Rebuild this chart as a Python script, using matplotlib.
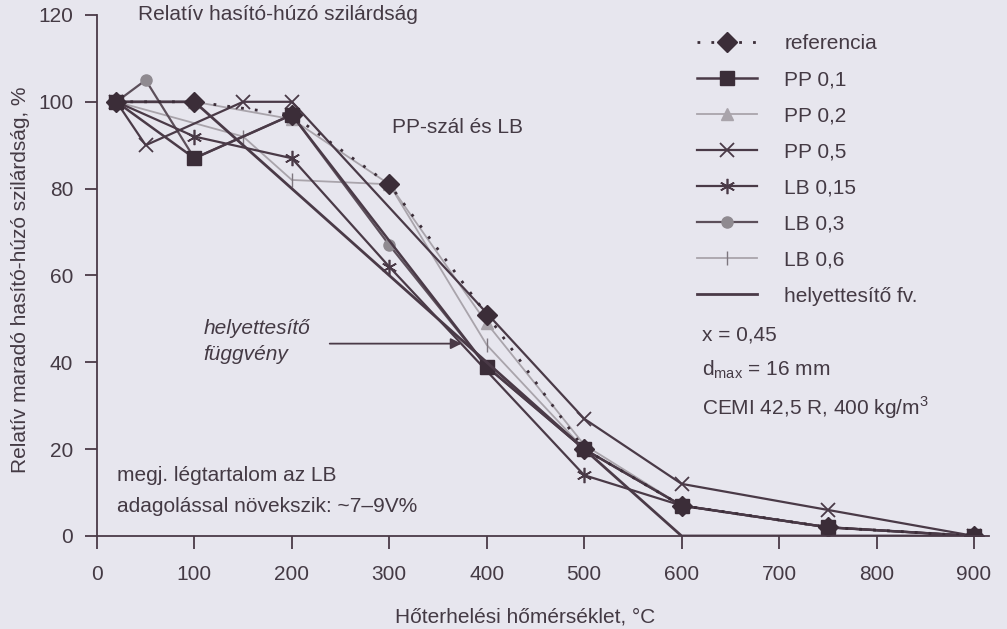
import numpy as np
import matplotlib.pyplot as plt
from matplotlib.lines import Line2D

plt.rcParams['font.family'] = ['Liberation Sans', 'DejaVu Sans']

# hőmérsékletek (°C) és relatív szilárdságok (%)
T_ref = [20, 100, 200, 300, 400, 500, 600, 750, 900]
v_ref = [100, 100, 97, 81, 51, 20, 7, 2, 0]

T_pp01 = [20, 100, 200, 400, 500, 600, 750, 900]
v_pp01 = [100, 87, 97, 39, 20, 7, 2, 0]

T_pp02 = [20, 100, 200, 300, 400, 500, 600, 750, 900]
v_pp02 = [100, 100, 96, 81, 49, 21, 7, 2, 0]

T_pp05 = [20, 50, 150, 200, 500, 600, 750, 900]
v_pp05 = [100, 90, 100, 100, 27, 12, 6, 0]

T_lb015 = [20, 100, 200, 300, 500, 600, 750, 900]
v_lb015 = [100, 92, 87, 62, 14, 7, 2, 0]

T_lb03 = [20, 50, 100, 200, 300, 400, 500, 600, 750, 900]
v_lb03 = [100, 105, 87, 97, 67, 39, 20, 7, 2, 0]

T_lb06 = [20, 150, 200, 300, 400, 500, 600, 750, 900]
v_lb06 = [100, 92, 82, 81, 44, 20, 7, 2, 0]

T_fit = [20, 100, 600, 900]
v_fit = [100, 100, 0, 0]

xticks = [0, 100, 200, 300, 400, 500, 600, 700, 800, 900]
yticks = [0, 20, 40, 60, 80, 100, 120]

bg = '#e7e6ee'
dark = '#4a3a47'
mark = '#3b2d38'
grey = '#a9a4ab'
tc = '#443a44'
fs = 15

fig = plt.figure(figsize=(10.07, 6.29), dpi=100, facecolor=bg)
ax = fig.add_axes([0.0963, 0.1479, 0.8854, 0.8283], facecolor=bg)

ax.plot(T_pp02, v_pp02, color=grey, lw=1.3, marker='^', ms=8, mfc=grey, mec=grey)
ax.plot(T_lb06, v_lb06, color=grey, lw=1.3, marker='|', ms=10, mec='#7d767e')
ax.plot(T_lb03, v_lb03, color='#5c4f5a', lw=1.6, marker='o', ms=8, mfc='#8f8a90', mec='#8f8a90')
ax.plot(T_lb015, v_lb015, color=dark, lw=1.6, marker=(6, 2, 0), ms=11, mec=dark, mew=1.2)
ax.plot(T_pp05, v_pp05, color=dark, lw=1.6, marker='x', ms=10, mec=dark, mew=1.3)
ax.plot(T_pp01, v_pp01, color=dark, lw=1.8, marker='s', ms=10, mfc=mark, mec=mark)
ax.plot(T_fit, v_fit, color=dark, lw=2.0)
ax.plot(T_ref, v_ref, color=mark, lw=2.0, ls=(0, (1, 4)), marker='D', ms=10, mfc=mark, mec=mark)

ax.set_xlim(0, 915)
ax.set_ylim(0, 120)
ax.set_xticks(xticks)
ax.set_yticks(yticks)
for s in ['top', 'right']:
    ax.spines[s].set_visible(False)
for s in ['left', 'bottom']:
    ax.spines[s].set_color(dark)
    ax.spines[s].set_linewidth(1.3)
ax.spines['left'].set_bounds(0, 120)
ax.tick_params(axis='both', direction='out', length=9, width=1.3, color=dark,
               labelsize=fs, labelcolor=tc)
ax.tick_params(axis='x', pad=12)
ax.tick_params(axis='y', pad=8)

fig.text(21 / 1007, 1 - 280 / 629, 'Relatív maradó hasító-húzó szilárdság, %', rotation=90,
         ha='center', va='center', fontsize=fs, color=tc)
fig.text(525 / 1007, 1 - 617 / 629, 'Hőterhelési hőmérséklet, °C', ha='center', va='center',
         fontsize=fs, color=tc)

ax.text(42, 120, 'Relatív hasító-húzó szilárdság', ha='left', va='center', fontsize=fs, color=tc)
ax.text(303, 94, 'PP-szál és LB', ha='left', va='center', fontsize=fs, color=tc)
ax.text(109, 47.9, 'helyettesítő', ha='left', va='center', fontsize=fs, color=tc, style='italic')
ax.text(109, 41.7, 'függvény', ha='left', va='center', fontsize=fs, color=tc, style='italic')
ax.annotate('', xy=(377, 44.3), xytext=(236, 44.3),
            arrowprops=dict(arrowstyle='-|>', color=dark, lw=1.3, mutation_scale=16))
ax.text(21, 14, 'megj. légtartalom az LB', ha='left', va='center', fontsize=fs, color=tc)
ax.text(21, 6.7, 'adagolással növekszik: ~7–9V%', ha='left', va='center', fontsize=fs, color=tc)

handles = [
    Line2D([], [], color=mark, lw=2, ls=(0, (1, 4)), marker='D', ms=10, mfc=mark, mec=mark),
    Line2D([], [], color=dark, lw=1.8, marker='s', ms=10, mfc=mark, mec=mark),
    Line2D([], [], color=grey, lw=1.3, marker='^', ms=8, mfc=grey, mec=grey),
    Line2D([], [], color=dark, lw=1.6, marker='x', ms=10, mec=dark, mew=1.3),
    Line2D([], [], color=dark, lw=1.6, marker=(6, 2, 0), ms=11, mec=dark, mew=1.2),
    Line2D([], [], color='#5c4f5a', lw=1.6, marker='o', ms=8, mfc='#8f8a90', mec='#8f8a90'),
    Line2D([], [], color=grey, lw=1.3, marker='|', ms=10, mec='#7d767e'),
    Line2D([], [], color=dark, lw=2.0),
]
labels = ['referencia', 'PP 0,1', 'PP 0,2', 'PP 0,5', 'LB 0,15', 'LB 0,3', 'LB 0,6', 'helyettesítő fv.']
leg = fig.legend(handles, labels, loc='upper left', bbox_to_anchor=(697 / 1007, 1 - 34 / 629),
                 frameon=False, fontsize=fs, handlelength=2.9, handletextpad=1.3,
                 labelspacing=0.82, borderaxespad=0, borderpad=0)
for t in leg.get_texts():
    t.set_color(tc)

fig.text(702 / 1007, 1 - 335 / 629, 'x = 0,45', ha='left', va='center', fontsize=fs, color=tc)
fig.text(702 / 1007, 1 - 370 / 629, 'd$_{\\mathregular{max}}$ = 16 mm', ha='left', va='center',
         fontsize=fs, color=tc)
fig.text(702 / 1007, 1 - 408 / 629, 'CEMI 42,5 R, 400 kg/m$^{\\mathregular{3}}$', ha='left',
         va='center', fontsize=fs, color=tc)

fig.savefig('out.png', dpi=100, facecolor=bg)
